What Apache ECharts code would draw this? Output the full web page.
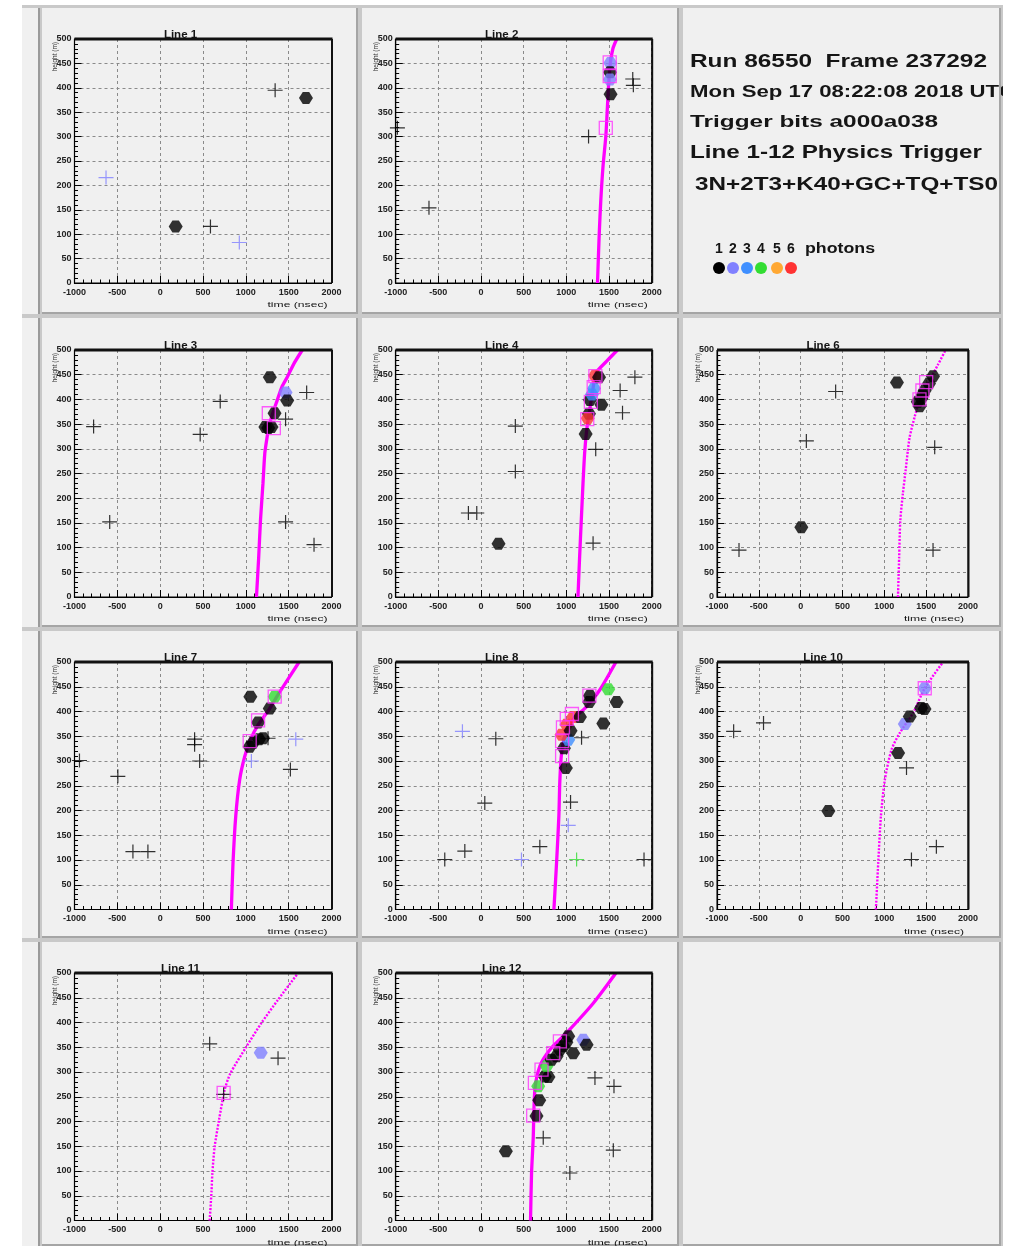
<!DOCTYPE html>
<html><head><meta charset="utf-8">
<script src="https://cdn.jsdelivr.net/npm/echarts@6/dist/echarts.min.js"></script>
<style>html,body{margin:0;padding:0;background:#fff}#c{width:1021px;height:1246px}</style>
</head><body><div id="c"></div><script>
// Axis ticks shared by every line display
const xTicks = [-1000, -500, 0, 500, 1000, 1500, 2000];
const yTicks = [0, 50, 100, 150, 200, 250, 300, 350, 400, 450, 500];
const xName = 'time (nsec)';
const yName = 'height (m)';

// Photon multiplicity legend
const photonLabels = ['1', '2', '3', '4', '5', '6'];
const photonColors = ['#000000', '#8080ff', '#3f8fff', '#33dd33', '#ffa833', '#ff3333'];

// Event header
const eventInfo = [
  'Run 86550  Frame 237292',
  'Mon Sep 17 08:22:08 2018 UTC',
  'Trigger bits a000a038',
  'Line 1-12 Physics Trigger',
  '3N+2T3+K40+GC+TQ+TS0'
];

// Hits: [time ns, height m, photons]; crosses: unused hits; boxes: hits used by the fit; fit: [time, height]
const line1Hits = [[181, 116, 1], [1702, 379, 1]];
const line1Crosses = [[-632, 216, 2], [587, 116, 1], [924, 83, 2], [1342, 395, 1]];
const line1Boxes = [];
const line1Fit = [];

const line2Hits = [[1515, 451, 2], [1512, 432, 1], [1510, 417, 2], [1518, 387, 1]];
const line2Crosses = [[-980, 318, 1], [-610, 154, 1], [1260, 300, 1], [1778, 418, 1], [1785, 405, 1]];
const line2Boxes = [[1462, 318], [1508, 452], [1508, 424]];
const line2Fit = [[1365, 0], [1385, 100], [1404, 171], [1430, 240], [1462, 300], [1478, 350], [1493, 400], [1515, 450], [1545, 480], [1590, 500]];

const line3Hits = [[1280, 445, 1], [1464, 414, 2], [1483, 398, 1], [1335, 372, 1], [1228, 344, 1], [1262, 342, 1], [1300, 344, 1]];
const line3Crosses = [[-777, 345, 1], [-589, 152, 1], [467, 329, 1], [701, 396, 1], [1710, 414, 1], [1464, 360, 1], [1464, 152, 1], [1796, 106, 1]];
const line3Boxes = [[1268, 372], [1327, 342]];
const line3Fit = [[1124, 0], [1150, 80], [1171, 155], [1200, 230], [1221, 290], [1245, 320], [1268, 344], [1310, 370], [1366, 398], [1420, 425], [1483, 445], [1560, 472], [1659, 500]];

const line4Hits = [[205, 108, 1], [1226, 330, 1], [1265, 371, 1], [1277, 399, 1], [1411, 389, 1], [1250, 362, 6], [1324, 422, 3], [1300, 410, 3], [1335, 448, 6], [1383, 445, 1]];
const line4Crosses = [[402, 346, 1], [402, 254, 1], [-148, 170, 1], [-50, 170, 1], [1313, 109, 1], [1344, 299, 1], [1630, 418, 1], [1658, 373, 1], [1803, 445, 1]];
const line4Boxes = [[1245, 360], [1287, 395], [1320, 425], [1340, 447]];
const line4Fit = [[1136, 0], [1155, 80], [1175, 156], [1195, 230], [1214, 291], [1238, 338], [1265, 370], [1285, 392], [1315, 425], [1344, 453], [1470, 477], [1599, 500]];

const line6Hits = [[8, 141, 1], [1151, 434, 1], [1400, 395, 1], [1422, 386, 1], [1442, 402, 1], [1460, 410, 1], [1482, 418, 1], [1534, 432, 1], [1582, 447, 1]];
const line6Crosses = [[-737, 95, 1], [68, 316, 1], [418, 416, 1], [1602, 303, 1], [1582, 95, 1]];
const line6Boxes = [[1420, 400], [1455, 418], [1500, 435]];
const line6Fit = [[1163, 0], [1177, 80], [1191, 155], [1222, 210], [1255, 257], [1280, 295], [1303, 324], [1363, 365], [1422, 399], [1482, 420], [1542, 439], [1640, 470], [1733, 500]];

const line7Hits = [[1053, 430, 1], [1279, 406, 1], [1143, 378, 1], [1045, 329, 1], [1084, 337, 1], [1154, 344, 1], [1201, 346, 1], [1337, 430, 4]];
const line7Crosses = [[-942, 301, 1], [-494, 269, 1], [-318, 117, 1], [-143, 117, 1], [402, 344, 1], [402, 333, 1], [461, 300, 1], [1259, 346, 1], [1065, 300, 2], [1583, 344, 2], [1520, 283, 1]];
const line7Boxes = [[1337, 430], [1143, 382], [1045, 340]];
const line7Fit = [[831, 0], [850, 93], [882, 188], [928, 262], [987, 309], [1053, 343], [1143, 373], [1279, 406], [1376, 434], [1622, 500]];

const line8Hits = [[994, 286, 1], [971, 326, 1], [1022, 343, 3], [944, 353, 6], [1002, 373, 6], [1080, 389, 6], [1049, 361, 1], [1159, 389, 1], [1268, 419, 1], [1276, 432, 1], [1433, 376, 1], [1491, 445, 4], [1589, 419, 1]];
const line8Crosses = [[-425, 101, 1], [-190, 118, 1], [-218, 360, 2], [173, 345, 1], [44, 215, 1], [474, 101, 2], [689, 127, 1], [1049, 217, 1], [1022, 170, 2], [1120, 101, 4], [1910, 101, 1], [1178, 347, 1]];
const line8Boxes = [[950, 310], [950, 340], [960, 368], [1005, 385], [1065, 395], [1270, 432]];
const line8Fit = [[854, 0], [885, 94], [912, 188], [924, 262], [944, 316], [983, 350], [1081, 384], [1237, 410], [1393, 444], [1581, 500]];

const line10Hits = [[331, 199, 1], [1165, 316, 1], [1245, 375, 2], [1304, 390, 1], [1440, 407, 1], [1480, 405, 1], [1483, 447, 2]];
const line10Crosses = [[-801, 360, 1], [-444, 377, 1], [1265, 286, 1], [1324, 101, 1], [1622, 127, 1]];
const line10Boxes = [[1483, 447]];
const line10Fit = [[899, 0], [927, 94], [959, 188], [1006, 262], [1086, 323], [1185, 357], [1344, 397], [1483, 447], [1702, 500]];

const line11Hits = [[1174, 339, 2]];
const line11Crosses = [[578, 357, 1], [1376, 328, 1], [741, 255, 1]];
const line11Boxes = [[741, 258]];
const line11Fit = [[578, 0], [600, 60], [609, 95], [636, 149], [687, 203], [753, 264], [819, 297], [1006, 351], [1182, 399], [1376, 446], [1610, 500]];

const line12Hits = [[291, 140, 1], [650, 211, 1], [682, 243, 1], [670, 271, 4], [748, 291, 1], [790, 290, 1], [768, 312, 4], [826, 325, 1], [885, 332, 1], [924, 345, 1], [963, 352, 1], [1000, 360, 1], [1022, 372, 1], [1080, 338, 1], [1198, 365, 2], [1237, 355, 1]];
const line12Crosses = [[729, 167, 1], [1041, 96, 1], [1550, 142, 1], [1335, 288, 1], [1558, 271, 1]];
const line12Boxes = [[611, 212], [631, 278], [709, 305], [846, 338], [924, 362]];
const line12Fit = [[580, 0], [592, 96], [611, 164], [631, 264], [690, 312], [807, 345], [1002, 379], [1315, 439], [1581, 500]];

// Pad layout (pixels)
const colLeft = [74.5, 395.7, 717];
const colWidth = [257, 256, 251];
const rowTop = [39, 350, 662, 973];
const rowHeight = [244, 247, 247.5, 247.5];
const cellX = [[42, 358], [362, 679], [683, 1001]];
const cellY = [[8, 314], [318, 627], [631, 938], [942, 1246]];

const panels = [
  { title: 'Line 1', col: 0, row: 0, hits: line1Hits, crosses: line1Crosses, boxes: line1Boxes, fit: line1Fit, dotted: false },
  { title: 'Line 2', col: 1, row: 0, hits: line2Hits, crosses: line2Crosses, boxes: line2Boxes, fit: line2Fit, dotted: false },
  { title: 'Line 3', col: 0, row: 1, hits: line3Hits, crosses: line3Crosses, boxes: line3Boxes, fit: line3Fit, dotted: false },
  { title: 'Line 4', col: 1, row: 1, hits: line4Hits, crosses: line4Crosses, boxes: line4Boxes, fit: line4Fit, dotted: false },
  { title: 'Line 6', col: 2, row: 1, hits: line6Hits, crosses: line6Crosses, boxes: line6Boxes, fit: line6Fit, dotted: true },
  { title: 'Line 7', col: 0, row: 2, hits: line7Hits, crosses: line7Crosses, boxes: line7Boxes, fit: line7Fit, dotted: false },
  { title: 'Line 8', col: 1, row: 2, hits: line8Hits, crosses: line8Crosses, boxes: line8Boxes, fit: line8Fit, dotted: false },
  { title: 'Line 10', col: 2, row: 2, hits: line10Hits, crosses: line10Crosses, boxes: line10Boxes, fit: line10Fit, dotted: true },
  { title: 'Line 11', col: 0, row: 3, hits: line11Hits, crosses: line11Crosses, boxes: line11Boxes, fit: line11Fit, dotted: true },
  { title: 'Line 12', col: 1, row: 3, hits: line12Hits, crosses: line12Crosses, boxes: line12Boxes, fit: line12Fit, dotted: false }
];

const FONT = '"Liberation Sans", Arial, sans-serif';
const HIT = 'path://M3.5,0 L9.5,0 L13,5.5 L9.5,11 L3.5,11 L0,5.5 Z';
const CROSS = 'path://M0,6.4 L15,6.4 L15,7.6 L0,7.6 Z M6.9,0 L8.1,0 L8.1,14 L6.9,14 Z';
const colorOf = p => photonColors[(p.data[2] || 1) - 1];

const measureCtx = document.createElement('canvas').getContext('2d');
function stretchedText(text, x, y, size, targetWidth, weight, z) {
  measureCtx.font = (weight || 'bold') + ' ' + size + 'px ' + FONT;
  const w = measureCtx.measureText(text).width;
  return {
    type: 'text', x: x, y: y, scaleX: targetWidth / w, z: z || 20,
    style: { text: text, fontSize: size, fontWeight: weight || 'bold', fontFamily: FONT, fill: '#151515', align: 'left', verticalAlign: 'middle' }
  };
}

const grids = [], xAxes = [], yAxes = [], series = [], graphics = [];

// Canvas background and pads
graphics.push({ type: 'rect', z: -30, shape: { x: 22, y: 5, width: 981, height: 1241 }, style: { fill: '#c9c9c9' } });
cellY.forEach(([y0, y1]) => {
  graphics.push({ type: 'rect', z: -20, shape: { x: 22, y: y0, width: 17, height: y1 - y0 }, style: { fill: '#f0f0f0' } });
  graphics.push({ type: 'rect', z: -19, shape: { x: 38, y: y0, width: 2, height: y1 - y0 }, style: { fill: '#9a9a9a' } });
  cellX.forEach(([x0, x1]) => {
    graphics.push({ type: 'rect', z: -20, shape: { x: x0, y: y0, width: x1 - x0, height: y1 - y0 }, style: { fill: '#f0f0f0' } });
    graphics.push({ type: 'rect', z: -19, shape: { x: x1 - 2, y: y0, width: 2, height: y1 - y0 }, style: { fill: '#a5a5a5' } });
    graphics.push({ type: 'rect', z: -19, shape: { x: x0, y: y1 - 2, width: x1 - x0, height: 2 }, style: { fill: '#a5a5a5' } });
  });
});

panels.forEach((p, i) => {
  const left = colLeft[p.col], top = rowTop[p.row], width = colWidth[p.col], height = rowHeight[p.row];
  grids.push({ left: left, top: top, width: width, height: height, show: true, borderColor: '#000', borderWidth: 1, backgroundColor: 'transparent', containLabel: false, outerBoundsMode: 'none' });
  const common = {
    gridIndex: i, type: 'value',
    axisLine: { show: true, onZero: false, lineStyle: { color: '#000', width: 1.2 } },
    axisTick: { show: true, inside: true, length: 7, lineStyle: { color: '#000', width: 1 } },
    minorTick: { show: true, splitNumber: 5, length: 3.5, lineStyle: { color: '#000', width: 1 } },
    splitLine: { show: true, lineStyle: { color: '#8a8a8a', type: [3, 3], width: 1 } },
    axisLabel: { fontSize: 9, fontWeight: 'bold', color: '#222', fontFamily: FONT, formatter: v => String(v), showMinLabel: true, showMaxLabel: true }
  };
  xAxes.push(Object.assign({}, common, {
    min: xTicks[0], max: xTicks[xTicks.length - 1], interval: xTicks[1] - xTicks[0],
    axisLabel: Object.assign({}, common.axisLabel, { margin: 5 })
  }));
  yAxes.push(Object.assign({}, common, {
    min: yTicks[0], max: yTicks[yTicks.length - 1], interval: yTicks[1] - yTicks[0],
    axisLabel: Object.assign({}, common.axisLabel, { margin: 3 })
  }));

  if (p.fit.length) {
    series.push({
      type: 'line', xAxisIndex: i, yAxisIndex: i, data: p.fit, showSymbol: false, smooth: 0.25, silent: true, z: 2,
      lineStyle: p.dotted ? { color: '#ff00ff', width: 2.4, type: [2, 1.5] } : { color: '#ff00ff', width: 3.3 }
    });
  }
  series.push({ type: 'scatter', xAxisIndex: i, yAxisIndex: i, data: p.crosses, symbol: CROSS, symbolSize: [15, 14], itemStyle: { color: colorOf }, z: 3, silent: true });
  series.push({ type: 'scatter', xAxisIndex: i, yAxisIndex: i, data: p.hits, symbol: HIT, symbolSize: [14, 12], itemStyle: { color: colorOf }, z: 4, silent: true });
  series.push({ type: 'scatter', xAxisIndex: i, yAxisIndex: i, data: p.boxes, symbol: 'rect', symbolSize: 13, itemStyle: { color: 'rgba(0,0,0,0)', borderColor: '#ff33ff', borderWidth: 1.3 }, z: 5, silent: true });

  // Heavy frame top/right edges
  graphics.push({ type: 'rect', z: 10, shape: { x: left, y: top - 1.5, width: width + 1, height: 3 }, style: { fill: '#111' } });
  graphics.push({ type: 'rect', z: 10, shape: { x: left + width - 0.5, y: top, width: 2, height: height }, style: { fill: '#111' } });
  // Pad title
  graphics.push({ type: 'text', z: 11, x: left + 106, y: top - 4, style: { text: p.title, fontSize: 11.5, fontWeight: 'bold', fontFamily: FONT, fill: '#151515', align: 'center', verticalAlign: 'middle' } });
  // Axis titles
  graphics.push(stretchedText(xName, left + width - 64, top + height + 22, 7.5, 60, 'normal', 11));
  graphics.push({ type: 'text', z: 11, x: left - 19, y: top + 3, rotation: Math.PI / 2, style: { text: yName, fontSize: 6.5, fontFamily: FONT, fill: '#333', align: 'right', verticalAlign: 'middle' } });
});

// Event header
const infoY = [62, 93, 122, 153, 185];
const infoX = [690, 690, 690, 690, 695];
const infoSize = [19, 16, 16.5, 17.5, 17.5];
const infoWidth = [297, 325, 248, 292, 303];
eventInfo.forEach((t, k) => graphics.push(stretchedText(t, infoX[k], infoY[k], infoSize[k], infoWidth[k], 'bold', 20)));

// Photon colour legend
const dotX = [719, 733, 747, 761, 777, 791];
photonLabels.forEach((t, k) => {
  graphics.push({ type: 'text', z: 20, x: dotX[k], y: 249, style: { text: t, fontSize: 14, fontWeight: 'bold', fontFamily: FONT, fill: '#151515', align: 'center', verticalAlign: 'middle' } });
  graphics.push({ type: 'circle', z: 20, shape: { cx: dotX[k], cy: 268, r: 6 }, style: { fill: photonColors[k] } });
});
graphics.push(stretchedText('photons', 805, 249, 14, 70, 'bold', 20));

// Clip the header at the right edge of its pad
graphics.push({ type: 'rect', z: 30, shape: { x: 1003, y: 0, width: 18, height: 1246 }, style: { fill: '#ffffff' } });
graphics.push({ type: 'rect', z: 31, shape: { x: 999, y: 8, width: 2, height: 306 }, style: { fill: '#a5a5a5' } });

const chart = echarts.init(document.getElementById('c'), null, { renderer: 'canvas', width: 1021, height: 1246 });
chart.setOption({
  animation: false,
  backgroundColor: '#ffffff',
  grid: grids, xAxis: xAxes, yAxis: yAxes, series: series,
  graphic: { elements: graphics }
});
</script></body></html>
